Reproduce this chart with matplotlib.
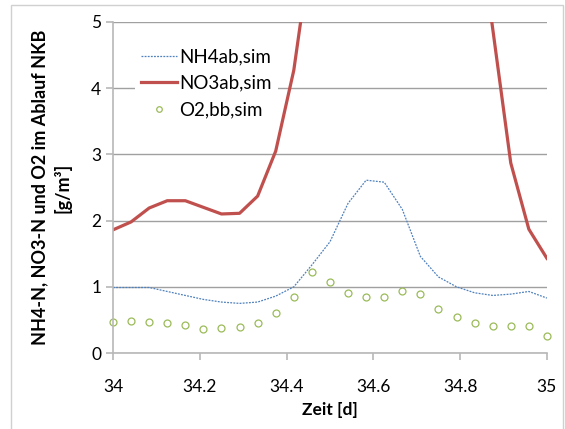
import numpy as np
import matplotlib.pyplot as plt
from matplotlib.patches import Rectangle

plt.rcParams['font.family'] = ['Lato', 'DejaVu Sans']

# Stundenwerte von Tag 34 bis 35
zeit = np.linspace(34, 35, 25)

nh4 = [0.99, 0.99, 0.99, 0.93, 0.87, 0.81, 0.77, 0.75, 0.77, 0.86, 1.00, 1.33,
       1.68, 2.26, 2.61, 2.58, 2.17, 1.46, 1.15, 1.00, 0.91, 0.87, 0.89, 0.93, 0.83]

no3 = [1.86, 1.98, 2.19, 2.30, 2.30, 2.20, 2.10, 2.11, 2.37, 3.05, 4.27, 6.2,
       8.0, 9.0, 9.5, 9.5, 9.0, 8.5, 8.0, 7.0, 6.9, 4.9, 2.87, 1.87, 1.43]

o2 = [0.47, 0.49, 0.47, 0.45, 0.42, 0.37, 0.38, 0.40, 0.46, 0.60, 0.85, 1.22,
      1.07, 0.91, 0.85, 0.85, 0.94, 0.89, 0.66, 0.55, 0.46, 0.41, 0.41, 0.41, 0.26]

fig = plt.figure(figsize=(5.65, 4.29), dpi=100)
ax = fig.add_axes([0.2, 0.177, 0.768, 0.772])

# Rahmen um das Diagramm
fig.patches.append(Rectangle((11 / 565, -0.1), 552 / 565, 1.1 - 5 / 429,
                             transform=fig.transFigure, fill=False,
                             edgecolor='#d0d0d0', linewidth=1))

ax.plot(zeit, nh4, color='#4F81BD', linewidth=0.9, linestyle=(0, (1.5, 1)),
        label='NH4ab,sim')
ax.plot(zeit, no3, color='#C0504D', linewidth=2.3, label='NO3ab,sim')
ax.plot(zeit, o2, linestyle='none', marker='o', markersize=5,
        markerfacecolor='none', markeredgecolor='#9BBB59', markeredgewidth=0.9,
        label='O2,bb,sim', clip_on=False)

ax.set_xlim(34, 35)
ax.set_ylim(0, 5)
ax.set_xticks(np.arange(34, 35.01, 0.2))
ax.set_xticklabels(['34', '34.2', '34.4', '34.6', '34.8', '35'])
ax.set_yticks(range(6))

ax.grid(axis='y', color='#a0a0a0', linewidth=1)
ax.set_axisbelow(True)
for s in ['top', 'right']:
    ax.spines[s].set_visible(False)
for s in ['left', 'bottom']:
    ax.spines[s].set_color('#b8b8b8')
    ax.spines[s].set_linewidth(1.2)
ax.tick_params(axis='both', colors='#b8b8b8', labelcolor='black',
               labelsize=12.5, length=5, width=1.2)
ax.tick_params(axis='x', pad=14)

ax.set_xlabel('Zeit [d]', fontsize=12.5, fontweight='bold', labelpad=5)
ax.set_ylabel('NH4-N, NO3-N und O2 im Ablauf NKB\n[g/m³]', fontsize=13,
              fontweight='bold', labelpad=14, linespacing=1.35)

leg = ax.legend(loc='upper left', bbox_to_anchor=(0.03, 0.965), frameon=True,
                fontsize=13.5, handlelength=1.9, handletextpad=0.15,
                labelspacing=0.5, borderpad=0.3, markerscale=0.8)
leg.get_frame().set_edgecolor('none')
leg.get_frame().set_facecolor('white')
leg.get_frame().set_alpha(1)
leg.get_frame().set_boxstyle('square', pad=0)

fig.savefig('out.png', dpi=100)
